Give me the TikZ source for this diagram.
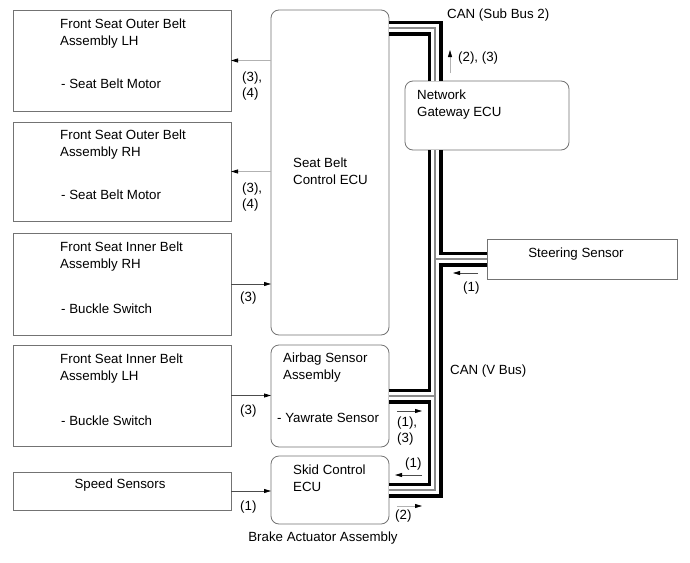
\documentclass[tikz,border=0pt]{standalone}
\usepackage{fontspec}
\setmainfont{Liberation Sans}
\usetikzlibrary{arrows.meta}
\newcommand\twol[2]{\begin{tabular}[t]{@{}l@{}}#1\\[1.5pt]#2\end{tabular}}
\newcommand\twolab[2]{\begin{tabular}[t]{@{}l@{}}#1\\#2\end{tabular}}
\begin{document}
\begin{tikzpicture}[x=1pt,y=-1pt,
  sqbox/.style={draw=black!55, line width=0.8pt, fill=white, anchor=north west, outer sep=0pt, inner sep=0pt},
  rbox/.style={sqbox, rounded corners=8pt},
  txt/.style={anchor=base west, inner sep=0pt, font=\fontsize{13.3}{15.5}\selectfont},
  ctxt/.style={txt, anchor=base},
  tipA/.style={-{Triangle[length=7pt,width=4pt,black]}},
  arrD/.style={tipA, draw=black!70, line width=0.8pt},
  arrL/.style={tipA, draw=black!30, line width=0.8pt},
  busblack/.style={draw=black, line width=15pt, line join=miter},
  buswhite/.style={draw=white, line width=8pt, line join=miter},
  busgrey/.style={draw=black!45, line width=1.2pt, line join=miter}]
\useasboundingbox[fill=white] (0,0) rectangle (690,562);

% boxes
\node[sqbox, minimum width=218pt, minimum height=101pt] (olh) at (13,10) {};
\node[sqbox, minimum width=218pt, minimum height=99pt] (orh) at (13,122) {};
\node[sqbox, minimum width=218pt, minimum height=102pt] (irh) at (13,233) {};
\node[sqbox, minimum width=218pt, minimum height=101pt] (ilh) at (13,345) {};
\node[sqbox, minimum width=218pt, minimum height=38pt] (speed) at (13,472) {};
\node[rbox, minimum width=118pt, minimum height=325pt] (sbecu) at (271,10) {};
\node[rbox, minimum width=118pt, minimum height=102pt] (airbag) at (271,345) {};
\node[rbox, minimum width=118pt, minimum height=68pt] (skid) at (271,456) {};
\node[rbox, minimum width=164pt, minimum height=69pt] (ngw) at (405,81) {};
\node[sqbox, minimum width=190pt, minimum height=40pt] (steer) at (487,239) {};
\coordinate (busx) at (435,0);

% CAN buses
\foreach \st in {busblack,buswhite,busgrey}{
  \draw[\st] ([yshift=-18pt]sbecu.north east) -| (busx |- ngw.north)
             (busx |- ngw.south) |- (skid.east)
             (busx |- steer.west) -- (steer.west)
             (busx |- airbag.east) -- (airbag.east);
}

% box texts
\node[txt] (t1) at (60,28.3) {\twol{Front Seat Outer Belt}{Assembly LH}};
\node[txt] (t1s) at (61,88.7) {- Seat Belt Motor};
\node[txt] (t2) at (60,139) {\twol{Front Seat Outer Belt}{Assembly RH}};
\node[txt] (t2s) at (61,199.7) {- Seat Belt Motor};
\node[txt] (t3) at (60,251.5) {\twol{Front Seat Inner Belt}{Assembly RH}};
\node[txt] (t3s) at (61,313.7) {- Buckle Switch};
\node[txt] (t4) at (60,363.5) {\twol{Front Seat Inner Belt}{Assembly LH}};
\node[txt] (t4s) at (61,425.7) {- Buckle Switch};
\node[ctxt] (t5) at (120,488.7) {Speed Sensors};
\node[txt] (t6) at (293,167) {\twol{Seat Belt}{Control ECU}};
\node[txt] (t7) at (417,99.5) {\twol{Network}{Gateway ECU}};
\node[txt] (t8) at (283,362.5) {\twol{Airbag Sensor}{Assembly}};
\node[txt] (t8s) at (277,422.7) {- Yawrate Sensor};
\node[txt] (t9) at (293,474.5) {\twol{Skid Control}{ECU}};
\node[ctxt] (t10) at (576,257.7) {Steering Sensor};
\node[ctxt] (t11) at (323,541.7) {Brake Actuator Assembly};
\node[txt] (t12) at (447,18.7) {CAN (Sub Bus 2)};
\node[txt] (t13) at (450,374.7) {CAN (V Bus)};

% signal arrows
\draw[arrL] (olh.east -| sbecu.west) -- (olh.east);
\draw[arrL] (orh.east -| sbecu.west) -- (orh.east);
\draw[arrD] (irh.east) -- (irh.east -| sbecu.west);
\draw[arrD] (ilh.east) -- (ilh.east -| airbag.west);
\draw[arrD] (speed.east) -- (speed.east -| skid.west);
\coordinate (u1) at (450,73); \coordinate (u2) at (450,50);
\draw[arrL] (u1) -- (u2);
\coordinate (s1) at (478,273); \coordinate (s2) at (453,273);
\draw[arrD] (s1) -- (s2);
\coordinate (a1) at (397,411); \coordinate (a2) at (422,411);
\draw[arrD] (a1) -- (a2);
\coordinate (k1) at (422,475); \coordinate (k2) at (395,475);
\draw[arrD] (k1) -- (k2);
\coordinate (k3) at (397,506); \coordinate (k4) at (422,506);
\draw[arrL] (k3) -- (k4);

% arrow labels
\node[txt] (l1) at (242,81.7) {\twolab{(3),}{(4)}};
\node[txt] (l2) at (242,192.7) {\twolab{(3),}{(4)}};
\node[txt] (l3) at (240,301.7) {(3)};
\node[txt] (l4) at (240,414.7) {(3)};
\node[txt] (l5) at (240,510.7) {(1)};
\node[txt] (l6) at (458,61.7) {(2), (3)};
\node[txt] (l7) at (463,291.7) {(1)};
\node[txt] (l8) at (397,426.7) {\twolab{(1),}{(3)}};
\node[txt] (l9) at (405,467.7) {(1)};
\node[txt] (l10) at (395,519.7) {(2)};
\end{tikzpicture}
\end{document}
